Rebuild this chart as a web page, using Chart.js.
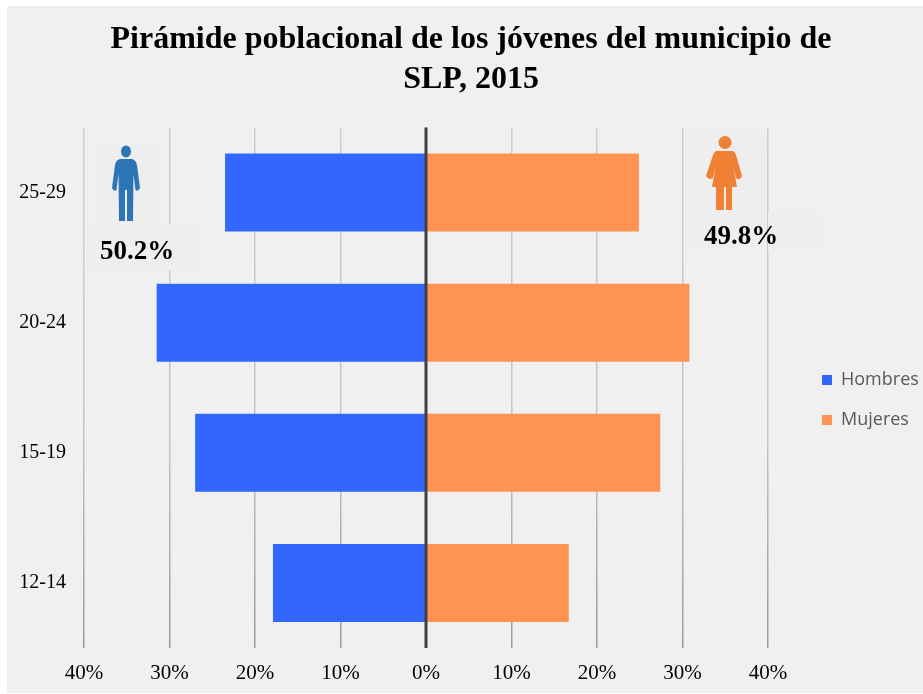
<!DOCTYPE html>
<html><head><meta charset="utf-8">
<script src="https://cdn.jsdelivr.net/npm/chart.js@4"></script>
<style>html,body{margin:0;padding:0;background:#fff}canvas{display:block}</style>
</head><body><canvas id="c" width="923" height="694"></canvas>
<script>
const categories = ['25-29','20-24','15-19','12-14'];
const hombres = [-23.5,-31.5,-27.0,-17.9];
const mujeres = [24.9,30.8,27.4,16.7];
const titleLines = ['Pirámide poblacional de los jóvenes del municipio de','SLP, 2015'];
const totalHombres = '50.2%';
const totalMujeres = '49.8%';

const SERIF = '"Liberation Serif"';
const decor = {
  id:'decor',
  beforeDraw(chart){
    const c = chart.ctx;
    c.save(); c.fillStyle='#fff'; c.fillRect(0,0,923,694);
    c.fillStyle='#f0f0f0'; c.fillRect(7,6,916,687); c.restore();
  },
  afterLayout(chart){
    const l = chart.legend;
    const w = l.width, h = l.height;
    l.left = 800; l.right = l.left+w; l.top = 400-h/2; l.bottom = l.top+h;
    l.adjustHitBoxes();
    const t = chart.titleBlock;
    t.left = 10; t.right = 932;
  },
  beforeDatasetsDraw(chart){
    const c = chart.ctx;
    c.save(); c.fillStyle='#eeeeee';
    [[95,142,63,80],[86,224,111,46],[686,132,81,118],[768,212,54,38]].forEach(r=>c.fillRect(...r));
    c.restore();
  },
  afterDatasetsDraw(chart){
    const c = chart.ctx, x = chart.scales.x, a = chart.chartArea;
    c.save();
    c.strokeStyle='#404040'; c.lineWidth=3;
    c.beginPath(); c.moveTo(x.getPixelForValue(0),a.top); c.lineTo(x.getPixelForValue(0),a.bottom); c.stroke();
    // man
    c.fillStyle='#2e75b6';
    c.beginPath(); c.ellipse(126,151.5,5,6,0,0,7); c.fill();
    c.beginPath();
    c.moveTo(120,159); c.lineTo(132,159);
    c.quadraticCurveTo(136,160,137,165); c.lineTo(140,188);
    c.quadraticCurveTo(138,192,135.5,190); c.lineTo(133.5,174);
    c.lineTo(133,221); c.lineTo(127,221); c.lineTo(127,190); c.lineTo(125,190); c.lineTo(125,221); c.lineTo(119,221);
    c.lineTo(118.5,174); c.lineTo(116.5,190); c.quadraticCurveTo(114,192,112,188);
    c.lineTo(115,165); c.quadraticCurveTo(116,160,120,159);
    c.closePath(); c.fill();
    // woman
    c.fillStyle='#f08033';
    c.beginPath(); c.arc(725,142.5,6.5,0,7); c.fill();
    c.beginPath();
    c.moveTo(716,151); c.lineTo(733,151); c.quadraticCurveTo(735,152,736,155);
    c.lineTo(742,176); c.quadraticCurveTo(740,181,736,178); c.lineTo(733,165);
    c.lineTo(737,187); c.lineTo(732,187); c.lineTo(732,210); c.lineTo(726,210); c.lineTo(726,187);
    c.lineTo(724,187); c.lineTo(724,210); c.lineTo(716,210); c.lineTo(716,187); c.lineTo(712,187);
    c.lineTo(716,165); c.lineTo(713,178); c.quadraticCurveTo(709,181,706,176);
    c.lineTo(713,155); c.quadraticCurveTo(714,152,716,151);
    c.closePath(); c.fill();
    // totals
    c.fillStyle='#000'; c.font='bold 27px '+SERIF; c.textBaseline='middle'; c.textAlign='left';
    c.fillText(totalHombres,100,252);
    c.fillText(totalMujeres,704,237);
    c.restore();
  }
};

let gridGradient = null;
function gridColor(ctx){
  const a = ctx.chart.chartArea;
  if(!a) return '#bbbbbb';
  if(!gridGradient){
    gridGradient = ctx.chart.ctx.createLinearGradient(0,a.top,0,a.bottom);
    gridGradient.addColorStop(0,'#cfcfcf');
    gridGradient.addColorStop(0.6,'#c4c4c4');
    gridGradient.addColorStop(1,'#9a9a9a');
  }
  return gridGradient;
}

new Chart(document.getElementById('c'),{
  type:'bar',
  plugins:[decor],
  data:{labels:categories,datasets:[
    {label:'Hombres',data:hombres,backgroundColor:'#3366ff',stack:'p'},
    {label:'Mujeres',data:mujeres,backgroundColor:'#ff9452',stack:'p'}
  ]},
  options:{
    indexAxis:'y',responsive:false,animation:false,
    categoryPercentage:1,barPercentage:0.6,
    layout:{padding:{left:0,right:155,top:0,bottom:0}},
    plugins:{
      tooltip:{enabled:false},
      title:{display:true,text:titleLines,color:'#000',
        font:{family:SERIF,size:32,weight:'bold',lineHeight:40/32},
        padding:{top:20,bottom:27.5}},
      legend:{position:'chartArea',onClick:null,
        labels:{boxWidth:10,boxHeight:10,padding:22,color:'#595959',
          font:{family:'"Open Sans"',size:18}}}
    },
    scales:{
      x:{type:'linear',stacked:true,min:-40,max:40,
        ticks:{stepSize:10,color:'#000',padding:13,maxRotation:0,
          font:{family:SERIF,size:21},
          callback:v=>Math.abs(v)+'%'},
        grid:{color:gridColor,lineWidth:1.5,drawTicks:false},
        border:{display:false},
        afterFit(s){s.height=46;}
      },
      y:{type:'category',stacked:true,
        ticks:{color:'#000',padding:18,font:{family:SERIF,size:20}},
        grid:{display:false,drawTicks:false},
        border:{display:false},
        afterFit(s){s.width=84;}
      }
    }
  }
});
</script></body></html>
